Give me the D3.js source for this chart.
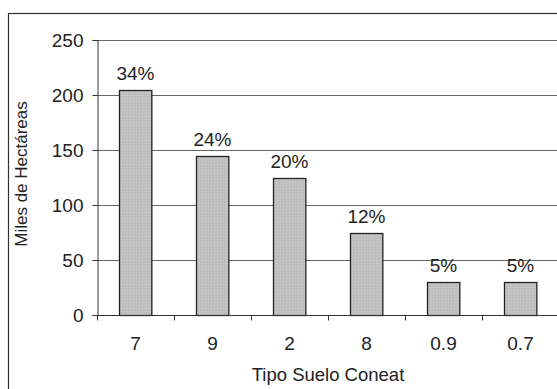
<!DOCTYPE html>
<html><head><meta charset="utf-8">
<script src="https://cdn.jsdelivr.net/npm/d3@7"></script>
<style>body{margin:0;background:#fff;}svg{display:block;font-family:"Liberation Sans",Arial,sans-serif;}</style>
</head><body>
<svg id="c" width="557" height="389"></svg>
<script>
const categories = ["7", "9", "2", "8", "0.9", "0.7"];
const values = [205, 145, 125, 75, 30, 30];
const percentLabels = ["34%", "24%", "20%", "12%", "5%", "5%"];
const yTicks = [0, 50, 100, 150, 200, 250];
const yTitle = "Miles de Hectáreas";
const xTitle = "Tipo Suelo Coneat";

const svg = d3.select("#c");
const m = {left: 97, right: 559, top: 40, bottom: 315};

// outer frame
svg.append("rect").attr("x", 8.5).attr("y", 13.5).attr("width", 600).attr("height", 420)
  .attr("fill", "none").attr("stroke", "#333").attr("stroke-width", 1.2);

const x = d3.scaleBand().domain(categories).range([m.left, m.right]).paddingInner(0.58).paddingOuter(0.29);
const y = d3.scaleLinear().domain([0, 250]).range([m.bottom, m.top]);

// gridlines
svg.append("g").selectAll("line").data(yTicks.filter(d => d > 0)).join("line")
  .attr("x1", m.left).attr("x2", m.right)
  .attr("y1", d => Math.round(y(d)) + 0.5).attr("y2", d => Math.round(y(d)) + 0.5)
  .attr("stroke", "#666").attr("stroke-width", 1);

// bars
const defs = svg.append("defs");
const pat = defs.append("pattern").attr("id", "stip").attr("width", 3).attr("height", 3).attr("patternUnits", "userSpaceOnUse");
pat.append("rect").attr("width", 3).attr("height", 3).attr("fill", "#c2c2c2");
pat.append("rect").attr("x", 0).attr("y", 0).attr("width", 1).attr("height", 1).attr("fill", "#b6b6b6");
pat.append("rect").attr("x", 2).attr("y", 1).attr("width", 1).attr("height", 1).attr("fill", "#b9b9b9");
pat.append("rect").attr("x", 1).attr("y", 2).attr("width", 1).attr("height", 1).attr("fill", "#cacaca");

svg.append("g").selectAll("rect").data(values).join("rect")
  .attr("x", (d, i) => Math.round(x(categories[i])) + 0.5)
  .attr("y", d => Math.round(y(d)) + 0.5)
  .attr("width", x.bandwidth())
  .attr("height", d => Math.round(y(0)) - Math.round(y(d)))
  .attr("fill", "url(#stip)").attr("stroke", "#222").attr("stroke-width", 1.3);

// percent labels
svg.append("g").selectAll("text").data(values).join("text")
  .attr("x", (d, i) => x(categories[i]) + x.bandwidth() / 2)
  .attr("y", d => y(d) - 10)
  .attr("text-anchor", "middle").attr("font-size", 19).attr("fill", "#222")
  .text((d, i) => percentLabels[i]);

// y axis
const yAxis = d3.axisLeft(y).tickValues(yTicks).tickSize(5).tickPadding(9).tickFormat(d3.format("d"));
const gy = svg.append("g").attr("transform", `translate(${m.left + 0.5},0)`).call(yAxis);
gy.select(".domain").attr("stroke", "#333");
gy.selectAll(".tick line").attr("stroke", "#333");
gy.selectAll("text").attr("font-size", 19).attr("fill", "#222").attr("font-family", null);

// x axis
const xEdges = d3.scaleLinear().domain([0, categories.length]).range([m.left, m.right]);
const gx = svg.append("g").attr("transform", `translate(0,${Math.round(y(0)) + 0.5})`);
gx.append("line").attr("x1", m.left).attr("x2", m.right).attr("stroke", "#333");
gx.selectAll("line.t").data(d3.range(categories.length + 1)).join("line").attr("class", "t")
  .attr("x1", i => Math.round(xEdges(i)) + 0.5).attr("x2", i => Math.round(xEdges(i)) + 0.5)
  .attr("y1", 0).attr("y2", 5).attr("stroke", "#333");
gx.selectAll("text").data(categories).join("text")
  .attr("x", d => x(d) + x.bandwidth() / 2).attr("y", 34)
  .attr("text-anchor", "middle").attr("font-size", 19).attr("fill", "#222").text(d => d);

// titles
svg.append("text").attr("x", 328).attr("y", 381).attr("text-anchor", "middle")
  .attr("font-size", 18.5).attr("fill", "#222").text(xTitle);
svg.append("text").attr("transform", "translate(27,174) rotate(-90)").attr("text-anchor", "middle")
  .attr("font-size", 17).attr("fill", "#222").text(yTitle);
</script>
</body></html>
